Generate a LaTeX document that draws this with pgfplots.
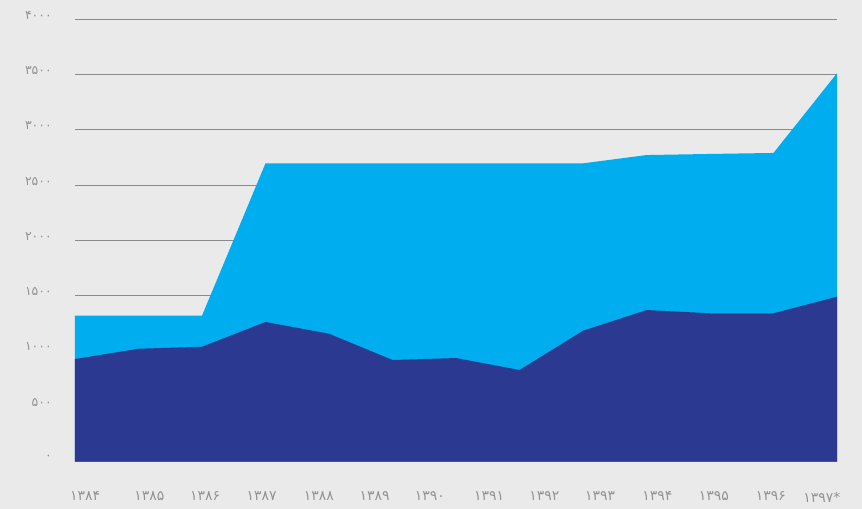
\documentclass[border=0pt]{standalone}
\usepackage{fontspec}
\setmainfont{DejaVu Sans}
\usepackage{pgfplots}
\pgfplotsset{compat=1.18}
\definecolor{bgc}{HTML}{EAEAEA}
\definecolor{lightblue}{HTML}{00AEEF}
\definecolor{navy}{HTML}{2B3990}
\definecolor{tickgray}{HTML}{939393}
\definecolor{gridgray}{HTML}{8A8A8A}

\begin{document}
\begin{tikzpicture}
\fill[bgc] (-75bp,-47.5bp) rectangle (787bp,461.5bp);
\begin{axis}[
    at={(0,0)}, anchor=south west,
    scale only axis,
    width=762bp, height=442.2bp,
    xmin=0, xmax=12, ymin=0, ymax=4000,
    axis line style={draw=none},
    major tick style={draw=none},
    ymajorgrids,
    grid style={gridgray, line width=1.1bp},
    ytick={0,500,...,4000},
    yticklabels={۰,۵۰۰,۱۰۰۰,۱۵۰۰,۲۰۰۰,۲۵۰۰,۳۰۰۰,۳۵۰۰,۴۰۰۰},
    y tick label style={font=\fontsize{12.5}{14}\selectfont, color=tickgray,
        anchor=east, inner sep=0pt, xshift=-23bp, yshift=4bp},
    xtick={0.16,1.17,2.05,2.94,3.84,4.72,5.59,6.52,7.39,8.27,9.17,10.06,10.96,11.76},
    xticklabels={۱۳۸۴,۱۳۸۵,۱۳۸۶,۱۳۸۷,۱۳۸۸,۱۳۸۹,۱۳۹۰,۱۳۹۱,۱۳۹۲,۱۳۹۳,۱۳۹۴,۱۳۹۵,۱۳۹۶,۱۳۹۷*},
    x tick label style={font=\fontsize{14}{16}\selectfont, color=tickgray,
        anchor=north, inner sep=0pt, yshift=-30bp},
]
% total (top of light blue area)
\addplot[fill=lightblue, draw=none] coordinates {
    (0,1319) (1,1319) (2,1319) (3,2697) (4,2697) (5,2697) (6,2697)
    (7,2697) (8,2697) (9,2772) (10,2782) (11,2791) (12,3512)
} \closedcycle;
% dark series
\addplot[fill=navy, draw=none] coordinates {
    (0,927) (1,1020) (2,1038) (3,1262) (4,1156) (5,918) (6,936)
    (7,828) (8,1183) (9,1370) (10,1341) (11,1341) (12,1491)
} \closedcycle;
\end{axis}
\pgfresetboundingbox
\useasboundingbox (-75bp,-47.5bp) rectangle (787bp,461.5bp);
\end{tikzpicture}
\end{document}
